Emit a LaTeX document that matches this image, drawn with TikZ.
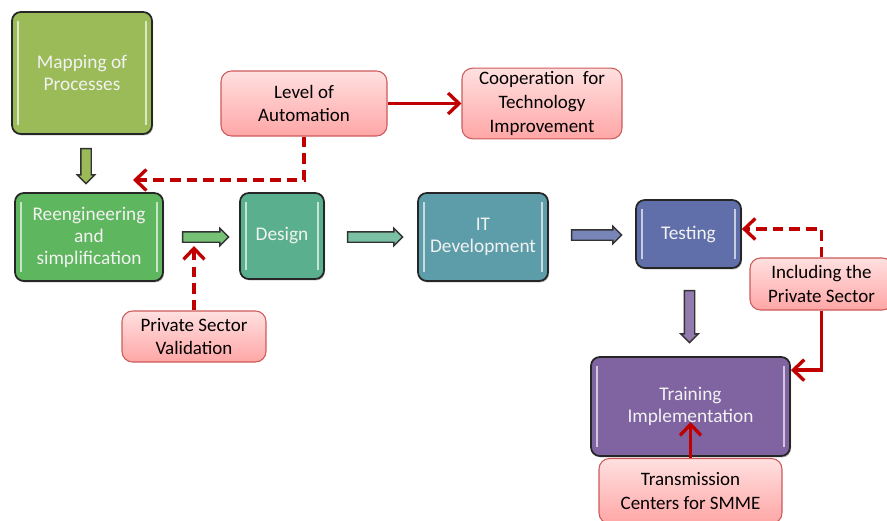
\documentclass[tikz,border=0pt]{standalone}
\usepackage{fontspec}
\setmainfont{Carlito}
\usepackage{tikz}
\usetikzlibrary{positioning}
\usetikzlibrary{arrows.meta}
\usetikzlibrary{shapes.arrows}
\usetikzlibrary{shadows}

\definecolor{mapcol}{RGB}{155,187,89}
\definecolor{reengcol}{RGB}{94,182,94}
\definecolor{designcol}{RGB}{90,176,142}
\definecolor{itcol}{RGB}{92,157,169}
\definecolor{testcol}{RGB}{96,111,170}
\definecolor{traincol}{RGB}{128,99,161}
\definecolor{notetop}{RGB}{255,224,224}
\definecolor{notebot}{RGB}{255,166,166}
\definecolor{noteline}{RGB}{205,90,90}
\definecolor{linkred}{RGB}{192,0,0}

\tikzset{
  stage/.style={draw=black!85, line width=1pt, rounded corners=5pt,
    text=white!95!black, align=center, font=\fontsize{11}{12.5}\selectfont,
    drop shadow={shadow xshift=0.6pt, shadow yshift=-0.8pt, opacity=0.6},
    path picture={
      \draw[white, opacity=0.65, line width=1.3pt]
        ([shift={(3.5pt,-5pt)}]path picture bounding box.north west) --
        ([shift={(3.5pt,5pt)}]path picture bounding box.south west)
        ([shift={(-3.5pt,-5pt)}]path picture bounding box.north east) --
        ([shift={(-3.5pt,5pt)}]path picture bounding box.south east);}},
  note/.style={draw=noteline, line width=0.6pt, rounded corners=6pt,
    top color=notetop, bottom color=notebot, align=center,
    font=\fontsize{10.8}{13.5}\selectfont, inner sep=2pt},
  flow/.style={single arrow, draw=black!80, line width=0.8pt, inner sep=0.09cm,
    single arrow head extend=0.07cm, single arrow tip angle=90},
  link/.style={draw=linkred, line width=1.9pt,
    -{Straight Barb[length=2.2mm,width=4.2mm]}},
  dlink/.style={link, dash pattern=on 6pt off 3.5pt}
}

\begin{document}
\begin{tikzpicture}
        \useasboundingbox (0,0) rectangle (17.74,-10.42);
        \clip (0,0) rectangle (17.74,-10.42);

        % main stages
        \node[stage, fill=mapcol, minimum width=2.8cm, minimum height=2.44cm] (map) at (1.64,-1.46) {Mapping of\\Processes};
        \node[stage, fill=reengcol, minimum width=2.96cm, minimum height=1.76cm] (reeng) at (1.78,-4.74) {Reengineering\\and\\simplification};
        \node[stage, fill=designcol, minimum width=1.68cm, minimum height=1.72cm] (design) at (5.64,-4.72) {Design};
        \node[stage, fill=itcol, minimum width=2.6cm, minimum height=1.76cm] (itdev) at (9.66,-4.74) {IT\\Development};
        \node[stage, fill=testcol, minimum width=2.1cm, minimum height=1.36cm] (test) at (13.77,-4.68) {Testing};
        \node[stage, fill=traincol, minimum width=3.98cm, minimum height=1.98cm] (train) at (13.81,-8.13) {Training\\Implementation};

        % notes
        \node[note, minimum width=3.32cm, minimum height=1.3cm] (auto) at (6.08,-2.07) {Level of\\Automation};
        \node[note, minimum width=3.2cm, minimum height=1.3cm] (coop) at (10.84,-2.07) {Cooperation~~for\\Technology\\Improvement};
        \node[note, minimum width=2.88cm, minimum height=1.02cm] (psv) at (3.88,-6.73) {Private Sector\\Validation};
        \node[note, minimum width=2.86cm, minimum height=1.04cm] (incl) at (16.43,-5.68) {Including the\\Private Sector};
        \node[note, minimum width=3.66cm, minimum height=1.3cm] (trans) at (13.81,-9.82) {Transmission\\Centers for SMME};

        % block arrows between stages
        \node[flow, fill=mapcol, minimum height=0.7cm, shape border rotate=270] (f1) at (1.72,-3.27) {};
        \node[flow, fill=reengcol!85!white, minimum height=0.92cm] (f2) at (4.06,-4.74) {};
        \node[flow, fill=designcol!80!white, minimum height=1.1cm] (f3) at (7.45,-4.74) {};
        \node[flow, fill=testcol!85!white, minimum height=1.0cm] (f4) at (11.88,-4.7) {};
        \node[flow, fill=traincol!85!white, minimum height=1.04cm, shape border rotate=270] (f5) at (13.79,-6.28) {};

        % red links
        \coordinate (autoend) at (2.66,-3.6);
        \coordinate (psvend) at (3.88,-4.92);
        \coordinate (transend) at (13.81,-8.44);
        \draw[dlink] (auto.south) |- (autoend);
        \draw[link] (auto.east) -- (coop.west);
        \draw[dlink] (psv.north) -- (psvend);
        \draw[dlink] (incl.north) |- ([yshift=0.1cm]test.east);
        \draw[link] (incl.south) |- ([yshift=-0.28cm]train.north east);
        \draw[link] (trans.north) -- (transend);
\end{tikzpicture}
\end{document}
